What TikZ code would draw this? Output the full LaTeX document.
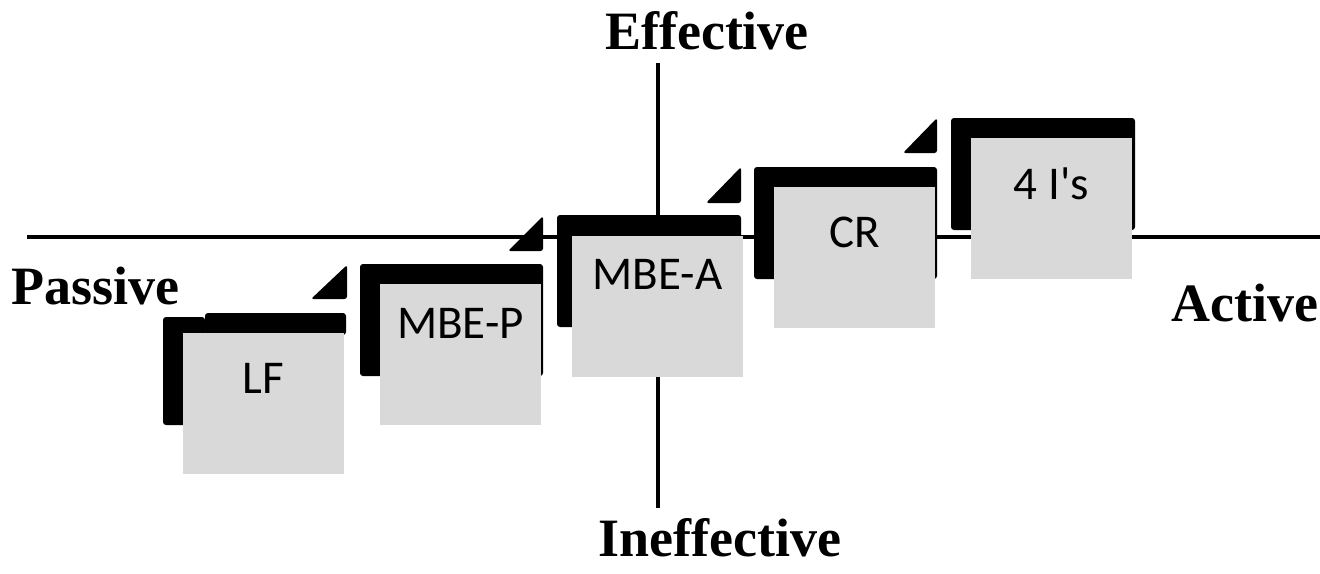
\documentclass[tikz,border=0pt]{standalone}
\usepackage{fontspec}
\setmainfont{Liberation Serif}
\newfontfamily\boxfont{Carlito}
\definecolor{cardgrey}{HTML}{D9D9D9}
\tikzset{
  axisline/.style={line width=4pt},
  shadow/.style={fill=black, rounded corners=3pt},
  wedge/.style={fill=black, rounded corners=2.5pt},
  card/.style={fill=cardgrey, draw=none, rectangle, inner sep=0pt, minimum width=161pt, minimum height=141pt, anchor=north west},
  cardlbl/.style={font=\boxfont\fontsize{47}{50}\selectfont, anchor=base, inner sep=0pt},
  axlbl/.style={font=\bfseries\fontsize{54}{57}\selectfont, anchor=base, inner sep=0pt}
}
\begin{document}
\begin{tikzpicture}[x=1pt,y=-1pt]
\useasboundingbox (0,0) rectangle (1320,573);
% axes
\coordinate (hl) at (27,237);
\coordinate (hr) at (1320,237);
\coordinate (vt) at (658,63);
\coordinate (vb) at (658,508);
\draw[axisline] (hl) -- (hr);
\draw[axisline] (vt) -- (vb);
% axis labels
\node[axlbl] (eff) at (707,49) {Effective};
\node[axlbl] (ineff) at (720,556) {Ineffective};
\node[axlbl] (pas) at (95,304) {Passive};
\node[axlbl] (act) at (1245,321) {Active};
% LF
\fill[shadow] (163,317) rectangle (205,425);
\fill[shadow] (205,313) rectangle (346,335);
\node[card] (lf) at (183,333) {};
\node[cardlbl] (lft) at (263.5,393) {LF};
\fill[wedge] (311,299) -- (347,265) -- (347,299) -- cycle;
% MBE-P
\fill[shadow] (360,264) rectangle (543,376);
\node[card] (mbep) at (380,284) {};
\node[cardlbl] (mbept) at (460.5,338) {MBE-P};
\fill[wedge] (508,251) -- (543,216) -- (543,251) -- cycle;
% MBE-A
\fill[shadow] (557,215) rectangle (741,327);
\node[card, minimum width=171pt] (mbea) at (572,236) {};
\node[cardlbl] (mbeat) at (657.5,289) {MBE-A};
\fill[wedge] (706,203) -- (741,167) -- (741,203) -- cycle;
% CR
\fill[shadow] (754,167) rectangle (937,279);
\node[card] (cr) at (774,187) {};
\node[cardlbl] (crt) at (854.5,247) {CR};
\fill[wedge] (903,153) -- (937,118) -- (937,153) -- cycle;
% 4 I's
\fill[shadow] (951,118) rectangle (1135,230);
\node[card] (fouri) at (971,138) {};
\node[cardlbl] (fourit) at (1051.5,199) {4 I's};
\end{tikzpicture}
\end{document}
